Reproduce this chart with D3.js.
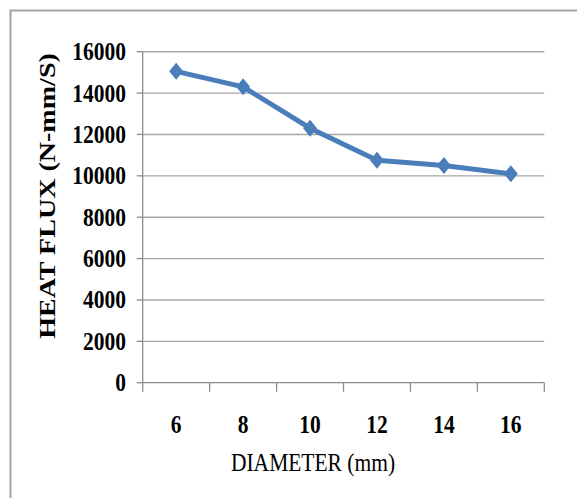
<!DOCTYPE html>
<html>
<head>
<meta charset="utf-8">
<script src="https://cdn.jsdelivr.net/npm/d3@7"></script>
<style>
  body { margin: 0; background: #fff; }
  svg { display: block; }
  text { font-family: "Liberation Serif", "Times New Roman", serif; fill: #000; }
</style>
</head>
<body>
<div id="chart"></div>
<script>
// values
var diameters = ["6", "8", "10", "12", "14", "16"];
var heatFlux = [15050, 14300, 12300, 10750, 10500, 10100];
var yTicks = [0, 2000, 4000, 6000, 8000, 10000, 12000, 14000, 16000];

var W = 577, H = 498;
// plot area edges (don't call it "top", that's window.top)
var plotL = 142.7, plotR = 544.3, plotT = 51.7, plotB = 382.7;
var stretch = 1.22; // text in the picture is drawn a bit taller than wide

var svg = d3.select("#chart").append("svg")
    .attr("width", W)
    .attr("height", H);

// outer frame, runs off the right and bottom of the image
svg.append("rect")
    .attr("x", 10.5).attr("y", 10.5)
    .attr("width", 620).attr("height", 520)
    .attr("fill", "none")
    .attr("stroke", "#a3a3a3")
    .attr("stroke-width", 2);

var x = d3.scaleBand().domain(diameters).range([plotL, plotR]).padding(0);
var y = d3.scaleLinear().domain([0, 16000]).range([plotB, plotT]);

// gridlines
svg.append("g").selectAll("line")
    .data(yTicks.filter(function(d){ return d > 0; }))
    .enter().append("line")
    .attr("x1", plotL).attr("x2", plotR)
    .attr("y1", function(d){ return y(d); })
    .attr("y2", function(d){ return y(d); })
    .attr("stroke", "#a6a6a6")
    .attr("stroke-width", 1.4);

// y axis
var yAxis = svg.append("g");
yAxis.append("line")
    .attr("x1", plotL).attr("x2", plotL)
    .attr("y1", plotT).attr("y2", plotB)
    .attr("stroke", "#8c8c8c").attr("stroke-width", 1.3);
yAxis.selectAll(".tick").data(yTicks).enter().append("line")
    .attr("x1", plotL - 6).attr("x2", plotL)
    .attr("y1", function(d){ return y(d); })
    .attr("y2", function(d){ return y(d); })
    .attr("stroke", "#8c8c8c").attr("stroke-width", 1.3);
yAxis.selectAll("text").data(yTicks).enter().append("text")
    .attr("transform", function(d){ return "translate(126," + (y(d) + 8.5) + ") scale(1," + stretch + ")"; })
    .attr("text-anchor", "end")
    .style("font-size", "21.5px")
    .style("font-weight", "bold")
    .text(function(d){ return d; });

// x axis
var xAxis = svg.append("g");
xAxis.append("line")
    .attr("x1", plotL).attr("x2", plotR)
    .attr("y1", plotB).attr("y2", plotB)
    .attr("stroke", "#8c8c8c").attr("stroke-width", 1.3);
var bounds = diameters.map(function(d){ return x(d); }).concat([plotR]);
xAxis.selectAll(".tick").data(bounds).enter().append("line")
    .attr("x1", function(d){ return d; }).attr("x2", function(d){ return d; })
    .attr("y1", plotB).attr("y2", plotB + 9)
    .attr("stroke", "#8c8c8c").attr("stroke-width", 1.3);
xAxis.selectAll("text").data(diameters).enter().append("text")
    .attr("transform", function(d){ return "translate(" + (x(d) + x.bandwidth() / 2) + ",433) scale(1," + stretch + ")"; })
    .attr("text-anchor", "middle")
    .style("font-size", "21.5px")
    .style("font-weight", "bold")
    .text(function(d){ return d; });

// axis titles
svg.append("text")
    .attr("transform", "translate(313,471) scale(1," + stretch + ")")
    .attr("text-anchor", "middle")
    .style("font-size", "21.5px")
    .text("DIAMETER (mm)");

svg.append("text")
    .attr("transform", "translate(55,196) scale(1," + stretch + ") rotate(-90)")
    .attr("text-anchor", "middle")
    .style("font-size", "23px")
    .style("font-weight", "bold")
    .text("HEAT FLUX (N-mm/S)");

// series
var pts = diameters.map(function(d, i){ return [x(d) + x.bandwidth() / 2, y(heatFlux[i])]; });
svg.append("path")
    .attr("d", d3.line()(pts))
    .attr("fill", "none")
    .attr("stroke", "#4a7ebb")
    .attr("stroke-width", 5)
    .attr("stroke-linejoin", "round");

svg.append("g").selectAll("path")
    .data(pts)
    .enter().append("path")
    .attr("transform", function(d){ return "translate(" + d[0] + "," + d[1] + ")"; })
    .attr("d", "M0,-8.5L7,0L0,8.5L-7,0Z")
    .attr("fill", "#4a7ebb");
</script>
</body>
</html>
